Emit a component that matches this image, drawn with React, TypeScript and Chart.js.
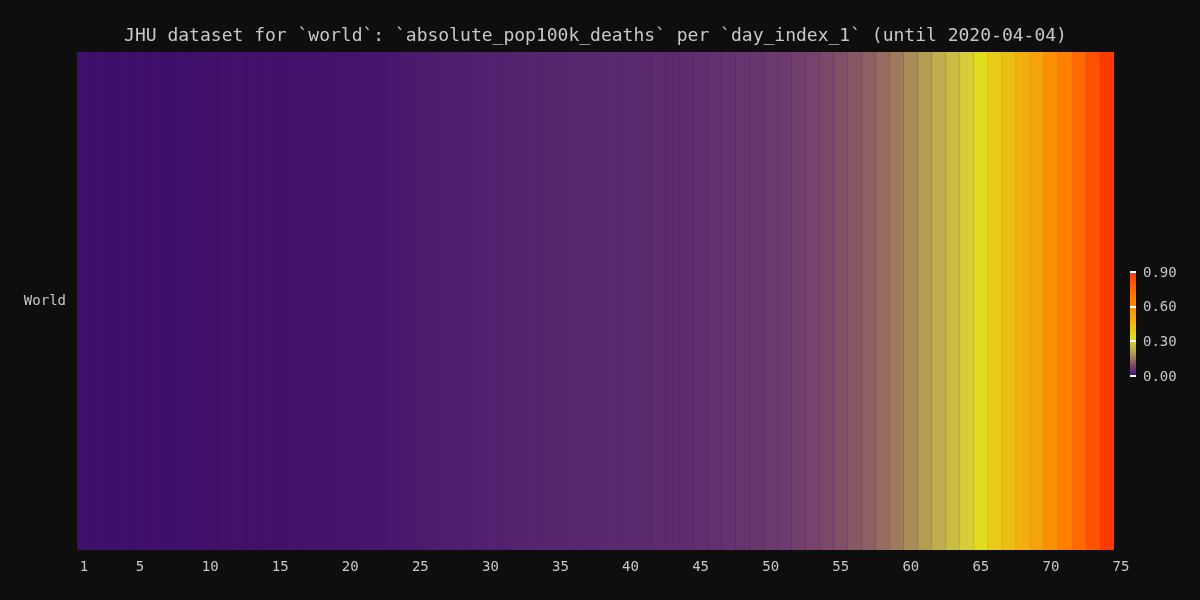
import { useEffect, useRef } from "react";
import { Chart, registerables } from "chart.js";

Chart.register(...registerables);

const TITLE =
  "JHU dataset for `world`: `absolute_pop100k_deaths` per `day_index_1` (until 2020-04-04)";
const ROW_LABELS = ["World"];

const DAY_INDEX = [
  1, 2, 3, 4, 5, 6, 7, 8, 9, 10, 11, 12, 13, 14, 15, 16, 17, 18, 19, 20, 21, 22, 23, 24, 25,
  26, 27, 28, 29, 30, 31, 32, 33, 34, 35, 36, 37, 38, 39, 40, 41, 42, 43, 44, 45, 46, 47, 48, 49,
  50, 51, 52, 53, 54, 55, 56, 57, 58, 59, 60, 61, 62, 63, 64, 65, 66, 67, 68, 69, 70, 71, 72, 73,
  74,
];

const POP100K_DEATHS = [
  0.0002, 0.0003, 0.0004, 0.0006, 0.0008, 0.0011, 0.0018, 0.0019, 0.0024, 0.003,
  0.0036, 0.005, 0.0059, 0.0069, 0.0079, 0.0088, 0.01, 0.0112, 0.0126, 0.0141,
  0.0155, 0.0156, 0.0191, 0.0212, 0.0232, 0.0247, 0.026, 0.028, 0.0296, 0.0313,
  0.0314, 0.0342, 0.0344, 0.0366, 0.0377, 0.0386, 0.0392, 0.04, 0.041, 0.0417,
  0.043, 0.044, 0.0453, 0.0466, 0.0482, 0.0496, 0.053, 0.0555, 0.0594, 0.0643,
  0.0657, 0.0753, 0.081, 0.0897, 0.0993, 0.1101, 0.1216, 0.1374, 0.1574, 0.1807,
  0.2041, 0.2299, 0.2594, 0.295, 0.3338, 0.3788, 0.4269, 0.4725, 0.5234, 0.5865,
  0.6519, 0.7379, 0.8188, 0.8998,
];

const X_TICKS = [1, 5, 10, 15, 20, 25, 30, 35, 40, 45, 50, 55, 60, 65, 70, 75];
const COLORBAR_TICKS = [0, 0.3, 0.6, 0.9];
const COLORBAR_MAX = 0.9;

const CMAP_STOPS = [
  0, 0.01, 0.02, 0.03, 0.04, 0.05, 0.065, 0.075, 0.09, 0.11, 0.1374, 0.1807, 0.2299, 0.295,
  0.334, 0.379, 0.473, 0.587, 0.652, 0.738, 0.819, 0.9, 0.95,
];
const CMAP_COLORS = [
  "#3e0f6b", "#43126c", "#4a186d", "#52206e", "#5a286e", "#62306e", "#6c3a6e", "#723f6c",
  "#7a486a", "#865866", "#966d60", "#aa8c58", "#c0ae4e", "#d8cc38", "#e2dc1e", "#e8cc18",
  "#f2b010", "#fa9006", "#ff8000", "#ff6a00", "#ff5200", "#ff3a00", "#ff2a00",
];

const BG = "#0e0e0e";
const FG = "#c8c8c8";
const FONT_FAMILY = "'DejaVu Sans Mono', monospace";

function hexToRgb(h: string): number[] {
  const n = parseInt(h.slice(1), 16);
  return [(n >> 16) & 255, (n >> 8) & 255, n & 255];
}

function rgbFor(v: number): number[] {
  if (v <= CMAP_STOPS[0]) return hexToRgb(CMAP_COLORS[0]);
  for (let i = 1; i < CMAP_STOPS.length; i++) {
    if (v <= CMAP_STOPS[i]) {
      const t = (v - CMAP_STOPS[i - 1]) / (CMAP_STOPS[i] - CMAP_STOPS[i - 1]);
      const a = hexToRgb(CMAP_COLORS[i - 1]);
      const b = hexToRgb(CMAP_COLORS[i]);
      return a.map((x, k) => x + (b[k] - x) * t);
    }
  }
  return hexToRgb(CMAP_COLORS[CMAP_COLORS.length - 1]);
}

function colorFor(v: number, shade = 1): string {
  const c = rgbFor(v).map((x) => Math.round(x * shade));
  return `rgb(${c[0]},${c[1]},${c[2]})`;
}

const backgroundPlugin = {
  id: "bgfill",
  beforeDraw(chart: any) {
    const ctx = chart.ctx;
    ctx.save();
    ctx.fillStyle = BG;
    ctx.fillRect(0, 0, chart.width, chart.height);
    ctx.restore();
  },
};

const decorPlugin = {
  id: "decor",
  afterDraw(chart: any) {
    const ctx = chart.ctx;
    const area = chart.chartArea;
    ctx.save();
    // title
    ctx.fillStyle = FG;
    ctx.font = `18px ${FONT_FAMILY}`;
    ctx.textAlign = "center";
    ctx.textBaseline = "middle";
    ctx.fillText(TITLE, (area.left + area.right) / 2, 36);

    // colorbar
    const x0 = 1130;
    const w = 6;
    const yTop = 272;
    const yBot = 376;
    for (let py = yTop; py < yBot; py++) {
      const v = (COLORBAR_MAX * (yBot - py - 0.5)) / (yBot - yTop);
      ctx.fillStyle = colorFor(v);
      ctx.fillRect(x0, py, w, 1);
    }
    ctx.font = `14px ${FONT_FAMILY}`;
    ctx.textAlign = "left";
    ctx.textBaseline = "middle";
    for (const t of COLORBAR_TICKS) {
      const y = yBot - (t / COLORBAR_MAX) * (yBot - yTop);
      ctx.fillStyle = "#ffffff";
      ctx.fillRect(x0, Math.round(y) - 1, w, 2);
      ctx.fillStyle = FG;
      ctx.fillText(t.toFixed(2), 1143, y + 1);
    }
    ctx.restore();
  },
};

export default function App() {
  const ref = useRef<HTMLCanvasElement>(null);

  useEffect(() => {
    document.body.style.margin = "0";
    document.body.style.background = BG;
    const canvas = ref.current;
    if (!canvas) return;

    const datasets = DAY_INDEX.map((d, i) => ({
      label: `day ${d}`,
      data: [[d - 0.5, d + 0.5]],
      backgroundColor: colorFor(POP100K_DEATHS[i]),
      borderColor: colorFor(POP100K_DEATHS[i], 0.93),
      borderWidth: { left: 1, right: 0, top: 0, bottom: 0 },
      borderSkipped: false,
      inflateAmount: 0.5,
      barPercentage: 1,
      categoryPercentage: 1,
      grouped: false,
    }));

    const chart = new Chart(canvas, {
      type: "bar",
      data: { labels: ROW_LABELS, datasets: datasets as any },
      plugins: [backgroundPlugin, decorPlugin],
      options: {
        animation: false,
        responsive: false,
        indexAxis: "y",
        layout: { padding: { left: 0, right: 86, top: 52, bottom: 0 } },
        plugins: {
          legend: { display: false },
          tooltip: { enabled: false },
          title: { display: false },
        },
        scales: {
          x: {
            type: "linear",
            min: 0.5,
            max: 74.5,
            grid: { display: false, drawTicks: false },
            border: { display: false },
            afterBuildTicks: (scale: any) => {
              scale.ticks = X_TICKS.map((v) => ({ value: v }));
            },
            afterFit: (scale: any) => {
              scale.height = 50;
            },
            ticks: {
              autoSkip: false,
              maxRotation: 0,
              color: FG,
              padding: 9,
              font: { family: FONT_FAMILY, size: 14 },
              callback: (v: any) => String(v),
            },
          },
          y: {
            type: "category",
            grid: { display: false, drawTicks: false },
            border: { display: false },
            afterFit: (scale: any) => {
              scale.width = 77;
            },
            ticks: {
              color: FG,
              padding: 11,
              font: { family: FONT_FAMILY, size: 14 },
            },
          },
        },
      } as any,
    });

    return () => chart.destroy();
  }, []);

  return (
    <div style={{ width: 1200, height: 600, background: BG }}>
      <canvas ref={ref} width={1200} height={600} style={{ display: "block" }} />
    </div>
  );
}
